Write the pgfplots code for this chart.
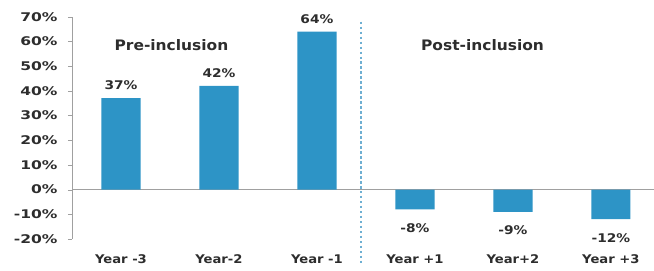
\documentclass[border=0pt]{standalone}
\usepackage{fontspec}
\setmainfont{DejaVu Sans}
\newfontfamily\tickfont{DejaVu Sans Bold}[FakeStretch=1.3]
\newfontfamily\barfont{DejaVu Sans Bold}[FakeStretch=1.15]
\newfontfamily\xfont{DejaVu Sans Bold}[FakeStretch=1.1]
\newfontfamily\titlefont{DejaVu Sans Bold}[FakeStretch=1.07]
\usepackage{pgfplots}
\pgfplotsset{compat=1.18}
\definecolor{barblue}{RGB}{45,148,198}
\definecolor{dashblue}{RGB}{110,175,210}
\definecolor{txt}{RGB}{45,45,45}
\definecolor{axgray}{RGB}{160,160,160}
\begin{document}
\begin{tikzpicture}
\begin{axis}[
  scale only axis,
  width=582bp, height=222.3bp,
  xmin=-0.5, xmax=5.44,
  ymin=-20, ymax=70,
  ybar, bar width=0.4, bar shift=0pt,
  axis x line=none,
  axis y line*=left,
  y axis line style={draw=axgray},
  ytick={-20,-10,0,10,20,30,40,50,60,70},
  yticklabel={\pgfmathprintnumber{\tick}\%},
  /pgf/number format/assume math mode=true,
  ytick style={draw=axgray},
  tick align=outside,
  major tick length=4bp,
  yticklabel style={font=\tickfont\fontsize{12}{12}\selectfont, text=txt, xshift=-7bp},
  extra y ticks={0},
  extra y tick labels={},
  extra y tick style={grid=major, major grid style={draw=axgray, line width=0.8pt}, major tick length=0pt},
  nodes near coords={\pgfmathprintnumber{\pgfplotspointmeta}\%},
  nodes near coords align={vertical},
  every node near coord/.append style={font=\barfont\fontsize{12}{12}\selectfont, text=txt},
  clip=false,
]
\addplot[fill=barblue, draw=none, every node near coord/.append style={inner ysep=8bp}] coordinates {(0,37) (1,42) (2,64)};
\addplot[fill=barblue, draw=none, every node near coord/.append style={inner ysep=14bp}] coordinates {(3,-8) (4,-9) (5,-12)};
\coordinate (BL) at (rel axis cs:0,0);
\coordinate (TR) at (rel axis cs:1,1);
\node[font=\xfont\fontsize{12}{13}\selectfont, text=txt] at (axis cs:0,-20) [yshift=-20.5bp] {Year -3};
\node[font=\xfont\fontsize{12}{13}\selectfont, text=txt] at (axis cs:1,-20) [yshift=-20.5bp] {Year-2};
\node[font=\xfont\fontsize{12}{13}\selectfont, text=txt] at (axis cs:2,-20) [yshift=-20.5bp] {Year -1};
\node[font=\xfont\fontsize{12}{13}\selectfont, text=txt] at (axis cs:3,-20) [yshift=-20.5bp] {Year +1};
\node[font=\xfont\fontsize{12}{13}\selectfont, text=txt] at (axis cs:4,-20) [yshift=-20.5bp] {Year+2};
\node[font=\xfont\fontsize{12}{13}\selectfont, text=txt] at (axis cs:5,-20) [yshift=-20.5bp] {Year +3};
\node[font=\titlefont\fontsize{14.5}{15}\selectfont, text=txt] at (axis cs:0.515,58.5) {Pre-inclusion};
\node[font=\titlefont\fontsize{14.5}{15}\selectfont, text=txt] at (axis cs:3.69,58.5) {Post-inclusion};
\draw[dashblue, line width=2pt, dash pattern=on 2.5pt off 2.5pt] (axis cs:2.446,68) -- (axis cs:2.446,-30.5);
\end{axis}
\pgfresetboundingbox
\path ([shift={(-72bp,-32bp)}]BL) rectangle ([shift={(0bp,16.7bp)}]TR);
\end{tikzpicture}
\end{document}
